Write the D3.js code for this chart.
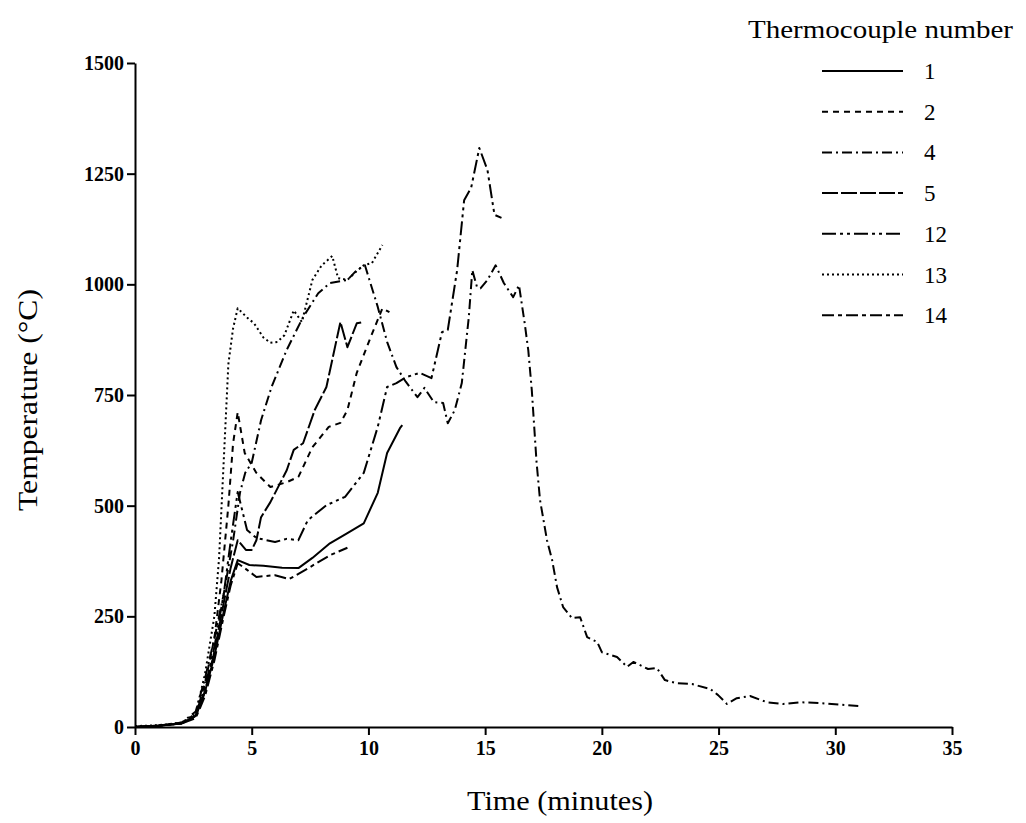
<!DOCTYPE html>
<html>
<head>
<meta charset="utf-8">
<script src="https://cdn.jsdelivr.net/npm/d3@7"></script>
<style>
	body { margin: 0; background: #fff; }
	svg { display: block; font-family: "Liberation Serif", "DejaVu Serif", serif; }
</style>
</head>
<body>
<div id="container"></div>
<script>
// time in minutes, temperature in degrees C
var tc1 = [[0,0],[1,3],[2,8],[2.6,25],[3,80],[3.4,160],[3.8,260],[4.1,330],[4.4,377],[4.9,366],[5.5,364],[6.3,360],[7.0,359],[7.6,382],[8.35,415],[9.1,438],[9.8,460],[10.4,529],[10.8,619],[11.35,675],[11.45,682]];
var tc2 = [[0,0],[1,3],[2,8],[2.6,25],[3,100],[3.4,200],[3.7,330],[4.0,500],[4.2,640],[4.4,711],[4.7,619],[5.2,574],[5.8,542],[6.5,553],[7.0,565],[7.6,632],[8.3,678],[8.8,687],[9.1,716],[9.5,800],[10.1,881],[10.6,946],[10.9,937]];
var tc4 = [[0,0],[1,3],[2,10],[2.6,35],[3,110],[3.4,200],[3.8,300],[4.2,420],[4.5,530],[4.72,574],[5.0,597],[5.4,693],[5.85,768],[6.5,852],[7.2,926],[7.85,980],[8.35,1003],[9.1,1010],[9.5,1032],[9.85,1043],[10.4,949],[10.8,870],[11.2,813],[11.6,780],[12.1,745],[12.4,766],[12.8,734],[13.2,732],[13.4,686],[13.7,716],[14.0,777],[14.3,926],[14.45,1032],[14.65,994],[14.8,991],[15.1,1010],[15.45,1043],[15.8,1003],[16.2,971],[16.45,998],[16.7,910],[16.85,850],[17.0,760],[17.2,600],[17.35,513],[17.65,422],[17.87,377],[18.08,316],[18.34,271],[18.72,246],[19.07,248],[19.37,203],[19.8,192],[20.0,169],[20.65,158],[21.08,136],[21.35,147],[21.98,131],[22.36,133],[22.7,106],[23.2,99],[23.86,97],[24.64,86],[24.98,72],[25.36,52],[25.78,65],[26.35,70],[27.07,56],[27.77,52],[28.5,56],[29.35,54],[30.3,50],[31.06,47]];
var tc5 = [[0,0],[1,3],[2,8],[2.6,25],[3,80],[3.4,170],[3.8,280],[4.1,360],[4.4,422],[4.75,400],[5.0,400],[5.2,422],[5.4,474],[5.8,508],[6.5,580],[6.8,626],[7.2,641],[7.7,716],[8.2,768],[8.8,915],[9.1,858],[9.5,912],[9.8,915]];
var tc12 = [[0,0],[1,3],[2,8],[2.6,30],[3,90],[3.4,180],[3.8,300],[4.1,420],[4.4,531],[4.8,445],[5.2,427],[6.0,418],[6.5,425],[7.0,422],[7.4,467],[8.2,501],[9.0,520],[9.8,574],[10.4,678],[10.8,768],[11.2,777],[11.6,790],[12.2,800],[12.7,788],[13.15,892],[13.4,897],[13.8,1032],[14.1,1190],[14.4,1218],[14.75,1308],[15.1,1258],[15.4,1157],[15.7,1150]];
var tc13 = [[0,2],[1,4],[2,10],[2.6,30],[3,120],[3.4,250],[3.6,380],[3.8,600],[4.0,820],[4.2,900],[4.4,946],[4.8,925],[5.1,912],[5.5,880],[5.8,868],[6.1,870],[6.4,885],[6.8,941],[7.15,915],[7.6,1010],[8.0,1043],[8.45,1064],[8.7,1014],[9.1,1010],[9.5,1030],[9.8,1043],[10.15,1048],[10.6,1089]];
var tc14 = [[0,0],[1,3],[2,8],[2.6,20],[3,70],[3.4,150],[3.8,250],[4.1,320],[4.4,370],[4.8,355],[5.2,339],[6.0,343],[6.6,334],[7.3,355],[8.35,388],[9.1,405]];

var seriesNames = ['1', '2', '4', '5', '12', '13', '14'];
var seriesData = [tc1, tc2, tc4, tc5, tc12, tc13, tc14];
var seriesDash = ['none', '6,5', '10,4,2,4', '16,3', '14,4,3,4,3,4', '2,3', '12,4,4,4'];

var xTicks = [0, 5, 10, 15, 20, 25, 30, 35];
var yTicks = [0, 250, 500, 750, 1000, 1250, 1500];

var width = 1026,
	height = 823,
	ink = '#000';

var svg = d3.select('#container').append('svg')
	.attr('width', width)
	.attr('height', height);

var x = d3.scaleLinear().domain([0, 35]).range([135, 952]);
var y = d3.scaleLinear().domain([0, 1500]).range([727, 63]);

// axes
var xAxis = svg.append('g')
	.attr('transform', 'translate(0,' + y(0) + ')')
	.call(d3.axisBottom(x).tickValues(xTicks).tickFormat(d3.format('d'))
		.tickSize(8).tickPadding(6).tickSizeOuter(0));

var yAxis = svg.append('g')
	.attr('transform', 'translate(' + x(0) + ',0)')
	.call(d3.axisLeft(y).tickValues(yTicks).tickFormat(d3.format('d'))
		.tickSize(8).tickPadding(3).tickSizeOuter(0));

[xAxis, yAxis].forEach(function(a) {
	a.select('.domain').attr('stroke', ink).attr('stroke-width', 2);
	a.selectAll('.tick line').attr('stroke', ink).attr('stroke-width', 2);
	a.selectAll('.tick text')
		.attr('fill', ink)
		.style('font-family', '"Liberation Serif", serif')
		.style('font-weight', 'bold')
		.style('font-size', '20px');
});

// lines
var line = d3.line()
	.x(function(d) { return x(d[0]); })
	.y(function(d) { return y(d[1]); });

seriesData.forEach(function(d, i) {
	svg.append('path')
		.datum(d)
		.attr('fill', 'none')
		.attr('stroke', ink)
		.attr('stroke-width', 2)
		.attr('stroke-linejoin', 'round')
		.attr('stroke-dasharray', seriesDash[i])
		.attr('d', line);
});

// axis titles
svg.append('text')
	.attr('x', 560)
	.attr('y', 810)
	.attr('text-anchor', 'middle')
	.attr('textLength', 186)
	.attr('lengthAdjust', 'spacingAndGlyphs')
	.style('font-size', '27px')
	.attr('fill', ink)
	.text('Time (minutes)');

svg.append('text')
	.attr('transform', 'translate(37,400) rotate(-90)')
	.attr('text-anchor', 'middle')
	.attr('textLength', 222)
	.attr('lengthAdjust', 'spacingAndGlyphs')
	.style('font-size', '27px')
	.attr('fill', ink)
	.text('Temperature (°C)');

// legend
var legend = svg.append('g');

legend.append('text')
	.attr('x', 748)
	.attr('y', 38)
	.attr('textLength', 265)
	.attr('lengthAdjust', 'spacingAndGlyphs')
	.style('font-size', '25px')
	.attr('fill', ink)
	.text('Thermocouple number');

seriesNames.forEach(function(name, i) {
	var ly = 71 + i * 40.7;
	legend.append('line')
		.attr('x1', 822)
		.attr('x2', 903)
		.attr('y1', ly)
		.attr('y2', ly)
		.attr('stroke', ink)
		.attr('stroke-width', 2)
		.attr('stroke-dasharray', seriesDash[i]);
	legend.append('text')
		.attr('x', 924)
		.attr('y', ly + 8)
		.style('font-size', '23px')
		.attr('fill', ink)
		.text(name);
});
</script>
</body>
</html>
